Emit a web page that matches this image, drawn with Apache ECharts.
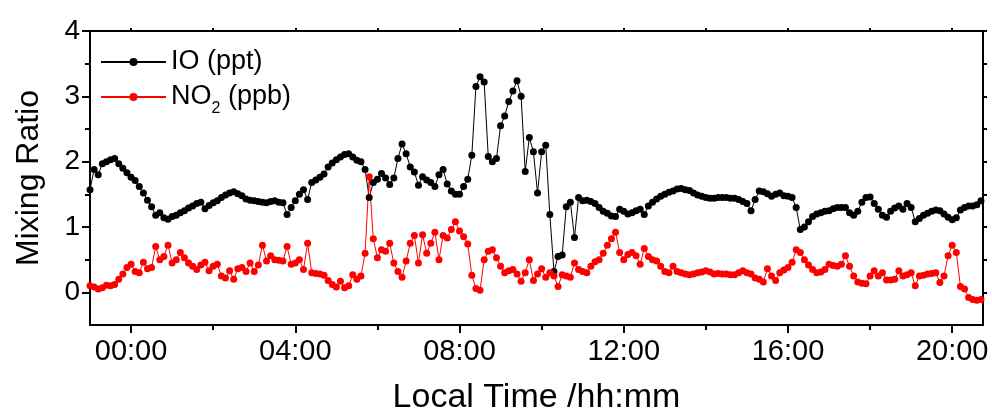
<!DOCTYPE html>
<html>
<head>
<meta charset="utf-8">
<script src="https://cdn.jsdelivr.net/npm/echarts@6/dist/echarts.min.js"></script>
<style>
  html, body { margin: 0; padding: 0; background: #fff; }
  #chart { width: 992px; height: 414px; }
</style>
</head>
<body>
<div id="chart"></div>
<script>
// sampling grid: one point every 0.1 h, starting at 23:00 of the day before
const startHour = -1.0;
const stepHour = 0.1;

// IO (ppt), one row per hour (-1 .. 20)
const ioValues = [
  1.57, 1.88, 1.80, 1.97, 2.00, 2.03, 2.05, 1.97, 1.90, 1.83,
  1.76, 1.71, 1.62, 1.52, 1.41, 1.31, 1.18, 1.22, 1.14, 1.12,
  1.16, 1.18, 1.22, 1.25, 1.29, 1.32, 1.36, 1.38, 1.28, 1.33,
  1.37, 1.40, 1.45, 1.49, 1.52, 1.54, 1.51, 1.48, 1.43, 1.41,
  1.40, 1.39, 1.38, 1.37, 1.39, 1.40, 1.38, 1.37, 1.19, 1.30,
  1.40, 1.50, 1.57, 1.42, 1.68, 1.72, 1.76, 1.81, 1.92, 1.98,
  2.03, 2.07, 2.11, 2.12, 2.07, 2.02, 2.00, 1.88, 1.45, 1.68,
  1.73, 1.82, 1.75, 1.65, 1.75, 2.05, 2.27, 2.12, 1.92, 1.84,
  1.64, 1.77, 1.72, 1.68, 1.62, 1.80, 1.88, 1.66, 1.55, 1.50,
  1.50, 1.62, 1.73, 2.10, 3.15, 3.30, 3.22, 2.08, 2.00, 2.05,
  2.55, 2.70, 2.92, 3.08, 3.24, 3.00, 1.85, 2.37, 2.15, 1.52,
  2.15, 2.25, 1.19, 0.32, 0.55, 0.57, 1.31, 1.38, 0.84, 1.45,
  1.40, 1.41, 1.39, 1.36, 1.30, 1.24, 1.21, 1.17, 1.16, 1.27,
  1.24, 1.20, 1.22, 1.25, 1.27, 1.19, 1.32, 1.38, 1.43, 1.47,
  1.50, 1.53, 1.55, 1.58, 1.59, 1.57, 1.56, 1.52, 1.49, 1.47,
  1.45, 1.44, 1.44, 1.45, 1.45, 1.45, 1.44, 1.44, 1.42, 1.39,
  1.36, 1.25, 1.42, 1.55, 1.54, 1.51, 1.47, 1.50, 1.52, 1.48,
  1.47, 1.45, 1.30, 0.96, 1.00, 1.08, 1.16, 1.20, 1.22, 1.24,
  1.25, 1.28, 1.30, 1.30, 1.30, 1.22, 1.18, 1.24, 1.38, 1.45,
  1.46, 1.36, 1.27, 1.18, 1.15, 1.24, 1.29, 1.32, 1.27, 1.36,
  1.30, 1.08, 1.13, 1.18, 1.21, 1.24, 1.26, 1.25, 1.20, 1.15,
  1.11, 1.14, 1.26, 1.30, 1.32, 1.32, 1.34, 1.40
];

// NO2 (ppb), same grid
const no2Values = [
  0.10, 0.08, 0.05, 0.07, 0.11, 0.10, 0.12, 0.20, 0.28, 0.38,
  0.43, 0.32, 0.30, 0.46, 0.36, 0.38, 0.70, 0.50, 0.55, 0.72,
  0.45, 0.50, 0.61, 0.53, 0.45, 0.40, 0.35, 0.42, 0.46, 0.33,
  0.40, 0.43, 0.25, 0.22, 0.33, 0.20, 0.36, 0.38, 0.32, 0.45,
  0.32, 0.42, 0.72, 0.48, 0.56, 0.50, 0.49, 0.48, 0.70, 0.43,
  0.45, 0.50, 0.35, 0.75, 0.30, 0.29, 0.28, 0.26, 0.18, 0.12,
  0.08, 0.17, 0.07, 0.10, 0.27, 0.20, 0.25, 0.60, 1.77, 0.82,
  0.53, 0.65, 0.63, 0.75, 0.45, 0.32, 0.23, 0.48, 0.75, 0.87,
  0.45, 0.88, 0.60, 0.75, 0.92, 0.50, 0.87, 0.83, 0.96, 1.08,
  0.94, 0.85, 0.74, 0.26, 0.06, 0.03, 0.50, 0.63, 0.65, 0.53,
  0.40, 0.30, 0.33, 0.35, 0.28, 0.17, 0.30, 0.50, 0.18, 0.28,
  0.36, 0.23, 0.30, 0.25, 0.09, 0.27, 0.25, 0.23, 0.45, 0.35,
  0.32, 0.30, 0.40, 0.47, 0.50, 0.60, 0.72, 0.82, 0.92, 0.61,
  0.50, 0.58, 0.61, 0.56, 0.43, 0.67, 0.55, 0.50, 0.48, 0.40,
  0.32, 0.30, 0.40, 0.32, 0.30, 0.28, 0.27, 0.28, 0.30, 0.31,
  0.33, 0.31, 0.28, 0.29, 0.28, 0.28, 0.27, 0.27, 0.30, 0.33,
  0.30, 0.28, 0.22, 0.20, 0.16, 0.36, 0.25, 0.18, 0.30, 0.34,
  0.38, 0.46, 0.65, 0.61, 0.50, 0.42, 0.35, 0.30, 0.31, 0.35,
  0.43, 0.41, 0.40, 0.43, 0.56, 0.40, 0.25, 0.16, 0.14, 0.13,
  0.25, 0.33, 0.25, 0.30, 0.19, 0.19, 0.20, 0.33, 0.25, 0.27,
  0.30, 0.10, 0.25, 0.26, 0.28, 0.29, 0.30, 0.15, 0.25, 0.56,
  0.72, 0.61, 0.09, 0.05, -0.08, -0.11, -0.12, -0.11
];

// axis ticks
const majorHours = [0, 4, 8, 12, 16, 20];
const minorHours = [2, 6, 10, 14, 18];
const evenHours = [0, 2, 4, 6, 8, 10, 12, 14, 16, 18, 20];
const yMajor = [0, 1, 2, 3, 4];
const yMinor = [0.5, 1.5, 2.5, 3.5];
const yHalf = [0, 0.5, 1, 1.5, 2, 2.5, 3, 3.5, 4];

const font = '"Liberation Sans", Arial, sans-serif';
const xMin = -1, xMax = 20.75, yMin = -0.5, yMax = 4;

const hours = ioValues.map((_, i) => +(startHour + i * stepHour).toFixed(2));
const ioData = hours.map((h, i) => [h, ioValues[i]]);
const no2Data = hours.map((h, i) => [h, no2Values[i]]);

const blackLine = { show: true, onZero: false, lineStyle: { color: '#000', width: 2 } };
const noLine = { show: false, onZero: false };

function hhmm(v) {
  return (v < 10 ? '0' : '') + v + ':00';
}

const chart = echarts.init(document.getElementById('chart'));
chart.setOption({
  animation: false,
  backgroundColor: '#fff',
  grid: { left: 90, right: 9, top: 31, bottom: 89, containLabel: false, outerBoundsMode: 'none' },
  legend: {
    orient: 'vertical',
    left: 100,
    top: 47,
    padding: 0,
    itemGap: 0,
    itemWidth: 65,
    itemHeight: 10,
    data: ['IO (ppt)', 'NO2'],
    formatter: name => name === 'NO2' ? 'NO{sub|2} (ppb)' : name,
    textStyle: {
      fontFamily: font, fontSize: 27, lineHeight: 30, color: '#000',
      rich: {
        sub: { fontFamily: font, fontSize: 16, lineHeight: 40, verticalAlign: 'bottom', color: '#000' }
      }
    }
  },
  xAxis: [
    {
      type: 'value', position: 'bottom', min: xMin, max: xMax,
      axisLine: blackLine,
      axisTick: { show: true, customValues: majorHours, length: 8, lineStyle: { color: '#000', width: 2 } },
      axisLabel: { customValues: majorHours, formatter: hhmm, fontFamily: font, fontSize: 29, color: '#000', margin: 12 },
      splitLine: { show: false },
      name: 'Local Time /hh:mm', nameLocation: 'middle', nameGap: 56,
      nameTextStyle: { fontFamily: font, fontSize: 34, color: '#000' }
    },
    {
      type: 'value', position: 'bottom', min: xMin, max: xMax,
      axisLine: noLine,
      axisTick: { show: true, customValues: minorHours, length: 5, lineStyle: { color: '#000', width: 2 } },
      axisLabel: { show: false },
      splitLine: { show: false }
    },
    {
      type: 'value', position: 'top', min: xMin, max: xMax,
      axisLine: blackLine,
      axisTick: { show: true, customValues: evenHours, length: 3, lineStyle: { color: '#000', width: 2 } },
      axisLabel: { show: false },
      splitLine: { show: false }
    }
  ],
  yAxis: [
    {
      type: 'value', position: 'left', min: yMin, max: yMax,
      axisLine: blackLine,
      axisTick: { show: true, customValues: yMajor, length: 8, lineStyle: { color: '#000', width: 2 } },
      axisLabel: { customValues: yMajor, fontFamily: font, fontSize: 28, color: '#000', margin: 10 },
      splitLine: { show: false },
      name: 'Mixing Ratio', nameLocation: 'middle', nameGap: 45,
      nameTextStyle: { fontFamily: font, fontSize: 32, color: '#000' }
    },
    {
      type: 'value', position: 'left', min: yMin, max: yMax,
      axisLine: noLine,
      axisTick: { show: true, customValues: yMinor, length: 5, lineStyle: { color: '#000', width: 2 } },
      axisLabel: { show: false },
      splitLine: { show: false }
    },
    {
      type: 'value', position: 'right', min: yMin, max: yMax,
      axisLine: blackLine,
      axisTick: { show: true, customValues: yHalf, length: 4, lineStyle: { color: '#000', width: 2 } },
      axisLabel: { show: false },
      splitLine: { show: false }
    }
  ],
  series: [
    {
      name: 'IO (ppt)', type: 'line', xAxisIndex: 0, yAxisIndex: 0,
      data: ioData, symbol: 'circle', symbolSize: 7, showAllSymbol: true,
      lineStyle: { color: '#000', width: 1 },
      itemStyle: { color: '#000' }
    },
    {
      name: 'NO2', type: 'line', xAxisIndex: 0, yAxisIndex: 0,
      data: no2Data, symbol: 'circle', symbolSize: 7, showAllSymbol: true,
      lineStyle: { color: '#ff0000', width: 1 },
      itemStyle: { color: '#ff0000' }
    }
  ]
});
</script>
</body>
</html>
